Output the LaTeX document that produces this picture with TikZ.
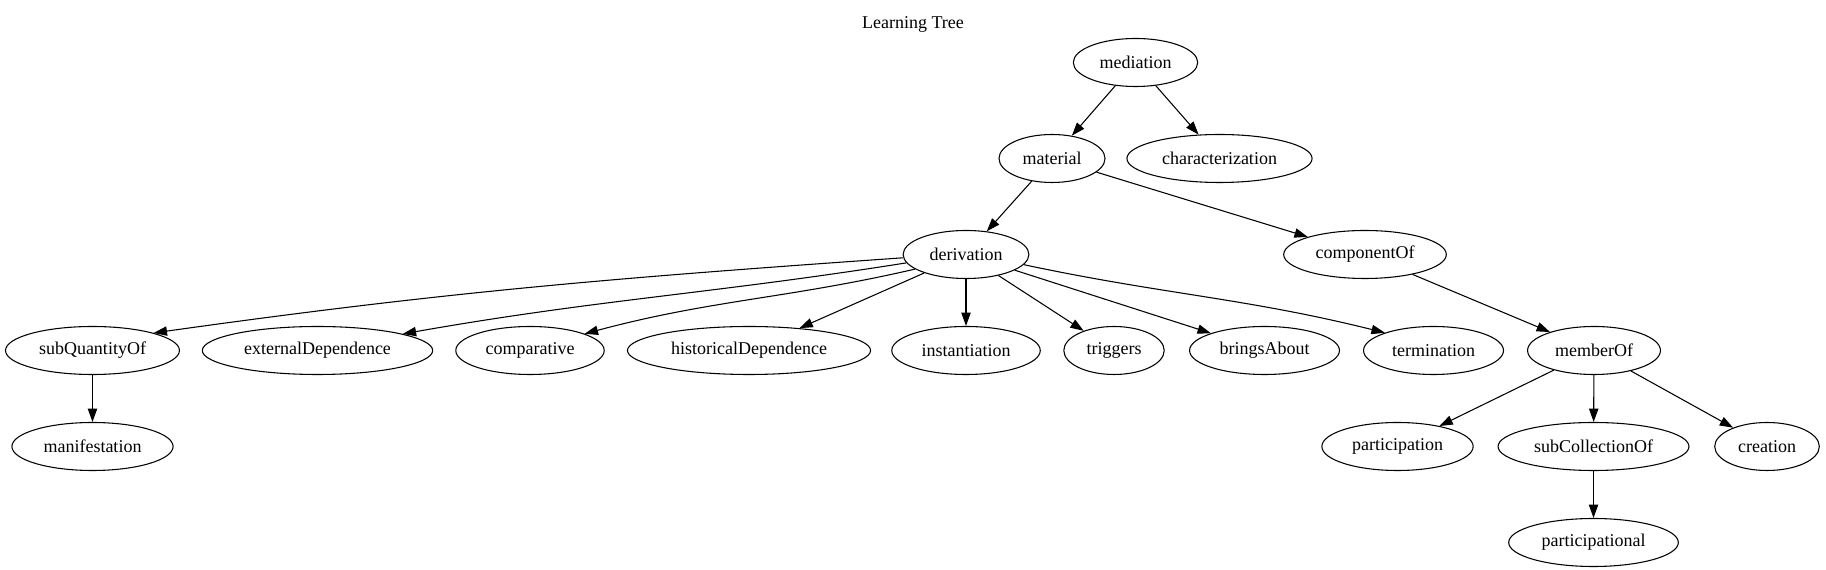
\documentclass[tikz,border=0pt]{standalone}
\usepackage{fontspec}
\setmainfont{Liberation Serif}
\usetikzlibrary{shapes.geometric,arrows.meta}
\begin{document}
\begin{tikzpicture}[x=0.75pt,y=0.75pt,
  nd/.style={draw,ellipse,line width=0.8pt,inner xsep=6pt,inner ysep=0pt,minimum height=36pt,
    font=\fontsize{13.5}{16}\selectfont},
  ttl/.style={font=\fontsize{13.5}{16}\selectfont},
  edge/.style={line width=0.8pt,-{Triangle[length=10pt,width=7pt]}}]
\useasboundingbox (0,0) rectangle (1826,570);
\node[ttl] (title) at (913,546) {Learning Tree};
% rank 0
\node[nd] (mediation) at (1135.5,507.5) {mediation};
% rank 1
\node[nd] (material) at (1052,411.5) {material};
\node[nd] (characterization) at (1219.5,411.5) {characterization};
% rank 2
\node[nd] (derivation) at (966,315.5) {derivation};
\node[nd] (componentOf) at (1365,315.5) {componentOf};
% rank 3
\node[nd] (subQuantityOf) at (92.5,219.5) {subQuantityOf};
\node[nd] (externalDependence) at (317.5,219.5) {externalDependence};
\node[nd] (comparative) at (530,219.5) {comparative};
\node[nd] (historicalDependence) at (749,219.5) {historicalDependence};
\node[nd] (instantiation) at (966,219.5) {instantiation};
\node[nd] (triggers) at (1114,219.5) {triggers};
\node[nd] (bringsAbout) at (1264.5,219.5) {bringsAbout};
\node[nd] (termination) at (1433.5,219.5) {termination};
\node[nd] (memberOf) at (1594,219.5) {memberOf};
% rank 4
\node[nd] (manifestation) at (92.5,123.5) {manifestation};
\node[nd] (participation) at (1397.5,123.5) {participation};
\node[nd] (subCollectionOf) at (1593.5,123.5) {subCollectionOf};
\node[nd] (creation) at (1767,123.5) {creation};
% rank 5
\node[nd] (participational) at (1593.5,27.5) {participational};
% edges
\draw[edge] (mediation) -- (material);
\draw[edge] (mediation) -- (characterization);
\draw[edge] (material) -- (derivation);
\draw[edge] (material) -- (componentOf);
\draw[edge] (derivation.183) to[out=184,in=8] (subQuantityOf.16);
\draw[edge] (derivation.188) to[out=189,in=10] (externalDependence.11);
\draw[edge] (derivation.196) to[out=193,in=15] (comparative.17);
\draw[edge] (derivation) -- (historicalDependence);
\draw[edge] (derivation) -- (instantiation);
\draw[edge] (derivation) -- (triggers);
\draw[edge] (derivation) -- (bringsAbout);
\draw[edge] (derivation.350) to[out=-12,in=166] (termination.160);
\draw[edge] (componentOf) -- (memberOf);
\draw[edge] (subQuantityOf) -- (manifestation);
\draw[edge] (memberOf) -- (participation);
\draw[edge] (memberOf) -- (subCollectionOf);
\draw[edge] (memberOf) -- (creation);
\draw[edge] (subCollectionOf) -- (participational);
\end{tikzpicture}
\end{document}
